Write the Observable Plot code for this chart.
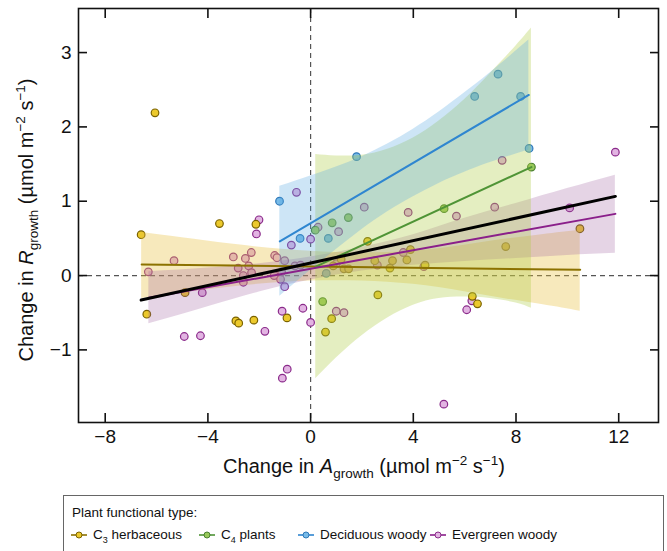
<!DOCTYPE html>
<html>
<head>
<meta charset="utf-8">
<script src="https://cdn.jsdelivr.net/npm/d3@7"></script>
<script src="https://cdn.jsdelivr.net/npm/@observablehq/plot@0.6"></script>
<style>
  body { margin: 0; background: #fff; }
  #wrap { position: relative; width: 667px; height: 551px; overflow: hidden; font-family: "Liberation Sans", Arial, sans-serif; }
  #legend { position: absolute; left: 63px; top: 495px; width: 601px; height: 70px; border: 1px solid #666; font-size: 13.5px; color: #111; box-sizing: border-box; }
  #legend .ttl { position: absolute; left: 8px; top: 9px; }
  #legend .item { position: absolute; top: 31px; white-space: nowrap; }
  #legend .item svg { vertical-align: middle; margin-right: 6px; }
  #legend sub { font-size: 9px; }
</style>
</head>
<body>
<div id="wrap"><div id="chart"></div><div id="legend"></div></div>
<script>
// ---- data ----
const xTicks = [-8, -4, 0, 4, 8, 12];
const yTicks = [-1, 0, 1, 2, 3];

const c3X = [-6.06, -6.60, -3.55, -2.13, -4.89, -6.38, -2.91, -2.80, -2.21, -0.92, 0.82, 0.58, 2.62, 6.30, 6.50, 2.22, 3.89, 3.19, 3.75, 2.50, 3.09, 4.46, 1.19, 1.30, 1.48, 0.88, 7.60, 10.49];
const c3Y = [2.19, 0.55, 0.70, 0.69, -0.23, -0.52, -0.61, -0.64, -0.60, -0.57, -0.58, -0.76, -0.26, -0.28, -0.38, 0.46, 0.35, 0.20, 0.21, 0.20, 0.10, 0.14, 0.22, 0.09, 0.09, 0.13, 0.39, 0.63];

const c4X = [0.47, 0.18, 0.84, 1.47, 5.20, 8.60];
const c4Y = [-0.35, 0.61, 0.71, 0.78, 0.90, 1.46];

const decX = [-1.21, -0.41, 0.69, 0.61, 1.79, 6.39, 7.30, 8.18, 8.51];
const decY = [1.00, 0.50, 0.50, 0.03, 1.60, 2.41, 2.71, 2.41, 1.71];

const evgX = [-2.01, -2.11, -0.55, -0.75, 0.00, 0.29, 1.09, 2.09, 3.80, 5.68, 7.17, 7.46, 10.09, 11.87,
  -5.32, -6.32, -3.01, -2.54, -2.31, -2.82, -2.41, -2.30, -2.62, -2.62, -1.40, -1.31, -1.01, -1.42, -1.17, -0.61, -0.39, -1.13,
  -1.01, -4.22, -4.92, -4.29, -1.78, -1.11, -0.30, 0.00, -1.10, -0.91, 1.00, 1.30, 6.28, 6.08, 5.19, 3.61, 2.60, 4.41, 1.00];
const evgY = [0.75, 0.56, 1.12, 0.41, 0.49, 0.65, 0.59, 0.92, 0.85, 0.80, 0.92, 1.55, 0.91, 1.66,
  0.20, 0.05, 0.25, 0.23, 0.31, 0.10, 0.13, 0.04, 0.00, -0.09, 0.27, 0.24, 0.20, 0.00, -0.05, 0.13, 0.14, 0.05,
  -0.15, -0.23, -0.82, -0.81, -0.75, -0.48, -0.44, -0.63, -1.38, -1.26, -0.48, -0.50, -0.34, -0.46, -1.73, 0.31, 0.14, 0.12, 0.16];

// fitted lines (end points)
const c3LineX = [-6.58, 10.5],  c3LineY = [0.15, 0.077];
const c4LineX = [0.2, 8.6],     c4LineY = [0.12, 1.46];
const decLineX = [-1.2, 8.5],   decLineY = [0.46, 2.43];
const evgLineX = [-6.3, 11.87], evgLineY = [-0.30, 0.83];
const allLineX = [-6.6, 11.87], allLineY = [-0.33, 1.065];

// confidence bands (edges)
const c3BandX  = [-6.58, -5, -3, -1, 1, 3, 5, 7, 9, 10.5];
const c3BandLo = [-0.31, -0.23, -0.15, -0.09, -0.07, -0.09, -0.16, -0.28, -0.39, -0.48];
const c3BandHi = [0.58, 0.51, 0.42, 0.35, 0.31, 0.31, 0.36, 0.46, 0.55, 0.61];

const c4BandX  = [0.2, 1, 2, 3, 4, 5, 6, 7, 8, 8.6];
const c4BandLo = [-1.39, -1.11, -0.81, -0.57, -0.40, -0.31, -0.29, -0.31, -0.37, -0.44];
const c4BandHi = [1.63, 1.61, 1.62, 1.70, 1.85, 2.08, 2.37, 2.72, 3.09, 3.33];

const decBandX  = [-1.2, 0, 1, 2, 3, 4, 5, 6, 7, 8.5];
const decBandLo = [-0.28, 0.07, 0.35, 0.62, 0.86, 1.06, 1.24, 1.39, 1.52, 1.69];
const decBandHi = [1.20, 1.34, 1.46, 1.60, 1.77, 1.97, 2.20, 2.46, 2.73, 3.17];

const evgBandX  = [-6.3, -4, -2, 0, 2, 4, 6, 8, 10, 11.87];
const evgBandLo = [-0.65, -0.42, -0.22, -0.06, 0.06, 0.14, 0.19, 0.23, 0.27, 0.30];
const evgBandHi = [0.05, 0.10, 0.16, 0.25, 0.38, 0.55, 0.77, 0.97, 1.17, 1.35];

const groupNames = ["C3 herbaceous", "C4 plants", "Deciduous woody", "Evergreen woody"];
const lineColors = ["#8c7200", "#4f9436", "#2f86d0", "#8a1f8a"];
const dotFills   = ["#ecc92c", "#98c95a", "#78bbe8", "#e2b4e2"];
const dotStrokes = ["#7a6200", "#4a8030", "#2e78b8", "#8a2a8a"];
const bandFills  = ["#e8c040", "#b0cc48", "#5aa8e0", "#a060a0"];
const bandOpac   = [0.35, 0.34, 0.3, 0.27];

// ---- build tables ----
const zip = (xs, ys) => xs.map((x, i) => ({x, y: ys[i]}));
const band = (xs, lo, hi) => xs.map((x, i) => ({x, lo: lo[i], hi: hi[i]}));
const pts = [zip(c3X, c3Y), zip(c4X, c4Y), zip(decX, decY), zip(evgX, evgY)];
const lines = [zip(c3LineX, c3LineY), zip(c4LineX, c4LineY), zip(decLineX, decLineY), zip(evgLineX, evgLineY)];
const bands = [band(c3BandX, c3BandLo, c3BandHi), band(c4BandX, c4BandLo, c4BandHi), band(decBandX, decBandLo, decBandHi), band(evgBandX, evgBandLo, evgBandHi)];

const fmt = d3.format("d");
const marks = [
  Plot.ruleX([0], {stroke: "#555", strokeWidth: 1.2, strokeDasharray: "5,4"}),
  Plot.ruleY([0], {stroke: "#555", strokeWidth: 1.2, strokeDasharray: "5,4"}),
];
// points (drawn beneath the bands)
[3, 0, 1, 2].forEach(g => marks.push(Plot.dot(pts[g], {x: "x", y: "y", r: 3.8, fill: dotFills[g], stroke: dotStrokes[g], strokeWidth: 1.2})));
// bands
[0, 3, 1, 2].forEach(g => marks.push(Plot.areaY(bands[g], {x: "x", y1: "lo", y2: "hi", fill: bandFills[g], fillOpacity: bandOpac[g], curve: "natural"})));
// lines
[0, 1, 2, 3].forEach(g => marks.push(Plot.line(lines[g], {x: "x", y: "y", stroke: lineColors[g], strokeWidth: 2})));
marks.push(Plot.line(zip(allLineX, allLineY), {x: "x", y: "y", stroke: "black", strokeWidth: 3}));
marks.push(Plot.frame({stroke: "#111", strokeWidth: 1.6}));
marks.push(Plot.axisX(xTicks, {anchor: "bottom", tickSize: -9, tickPadding: 16, strokeWidth: 1.6, tickFormat: fmt, label: null}));
marks.push(Plot.axisX(xTicks, {anchor: "top", tickSize: -9, strokeWidth: 1.6, tickFormat: () => "", label: null}));
marks.push(Plot.axisY(yTicks, {anchor: "left", tickSize: -9, tickPadding: 16, strokeWidth: 1.6, tickFormat: fmt, label: null}));
marks.push(Plot.axisY(yTicks, {anchor: "right", tickSize: -9, strokeWidth: 1.6, tickFormat: () => "", label: null}));

const svg = Plot.plot({
  width: 667, height: 490,
  marginLeft: 78, marginRight: 9, marginTop: 8, marginBottom: 68,
  x: {domain: [-9.04, 13.55]},
  y: {domain: [-1.977, 3.593]},
  style: {fontFamily: "'Liberation Sans', Arial, sans-serif", fontSize: "19px", color: "#111", background: "white"},
  marks
});
document.getElementById("chart").appendChild(svg);

// axis titles with sub/superscripts
function richText(g, parts) {
  let shift = 0;
  parts.forEach(p => {
    const ts = g.append("tspan").text(p.t);
    let target = 0;
    if (p.sub) { target = 5; ts.attr("font-size", "13.5px"); }
    if (p.sup) { target = -8; ts.attr("font-size", "13.5px"); }
    if (p.i) ts.attr("font-style", "italic");
    if (target !== shift) { ts.attr("dy", target - shift); shift = target; }
  });
}
const s = d3.select(svg);
const xt = s.append("text").attr("x", 364).attr("y", 473).attr("text-anchor", "middle")
  .attr("font-size", "20px").attr("fill", "#111");
richText(xt, [{t: "Change in "}, {t: "A", i: true}, {t: "growth", sub: true}, {t: " (µmol m"}, {t: "−2", sup: true}, {t: " s"}, {t: "−1", sup: true}, {t: ")"}]);
const yt = s.append("text").attr("transform", "translate(33,220) rotate(-90)").attr("text-anchor", "middle")
  .attr("font-size", "20px").attr("fill", "#111");
richText(yt, [{t: "Change in "}, {t: "R", i: true}, {t: "growth", sub: true}, {t: " (µmol m"}, {t: "−2", sup: true}, {t: " s"}, {t: "−1", sup: true}, {t: ")"}]);

// legend
const legendTitle = "Plant functional type:";
const legendMain = ["C", "C", "Deciduous woody", "Evergreen woody"];
const legendSub = ["3", "4", "", ""];
const legendRest = [" herbaceous", " plants", "", ""];
const legendLeft = [7, 135, 234, 366];
const leg = document.getElementById("legend");
const t = document.createElement("div"); t.className = "ttl"; t.textContent = legendTitle; leg.appendChild(t);
groupNames.forEach((name, g) => {
  const it = document.createElement("div");
  it.className = "item";
  it.style.left = legendLeft[g] + "px";
  it.innerHTML = `<svg width="16" height="10"><line x1="0" y1="5" x2="16" y2="5" stroke="${lineColors[g]}" stroke-width="1.6"/><circle cx="8" cy="5" r="3" fill="${dotFills[g]}" stroke="${dotStrokes[g]}" stroke-width="1"/></svg>`;
  const span = document.createElement("span");
  span.appendChild(document.createTextNode(legendMain[g]));
  if (legendSub[g]) { const sb = document.createElement("sub"); sb.textContent = legendSub[g]; span.appendChild(sb); }
  span.appendChild(document.createTextNode(legendRest[g]));
  it.appendChild(span);
  leg.appendChild(it);
});
</script>
</body>
</html>
